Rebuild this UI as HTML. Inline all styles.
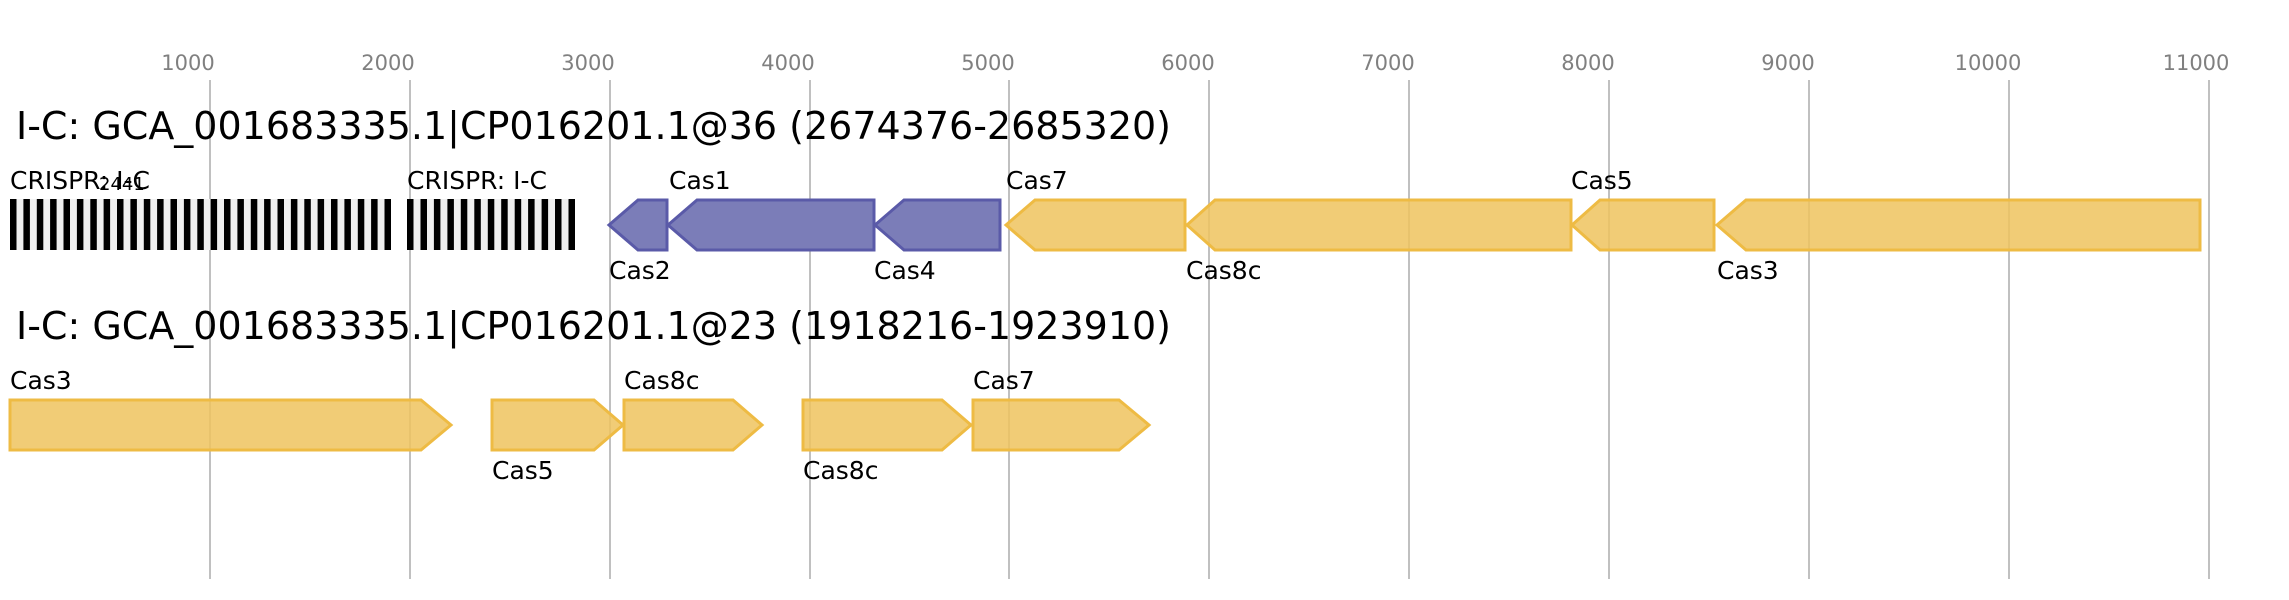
<!DOCTYPE html>
<html><head><meta charset="utf-8"><style>
html,body{margin:0;padding:0;background:#fff;}
svg{display:block;font-family:"DejaVu Sans","Liberation Sans",sans-serif;}
</style></head><body>
<svg width="2289" height="600" viewBox="0 0 2289 600" xmlns="http://www.w3.org/2000/svg">
<g stroke="#c0c0c0" stroke-width="2">
<line x1="210" y1="80" x2="210" y2="579"/><line x1="410" y1="80" x2="410" y2="579"/>
<line x1="610" y1="80" x2="610" y2="579"/><line x1="810" y1="80" x2="810" y2="579"/>
<line x1="1009" y1="80" x2="1009" y2="579"/><line x1="1209" y1="80" x2="1209" y2="579"/>
<line x1="1409" y1="80" x2="1409" y2="579"/><line x1="1609" y1="80" x2="1609" y2="579"/>
<line x1="1809" y1="80" x2="1809" y2="579"/><line x1="2009" y1="80" x2="2009" y2="579"/>
<line x1="2209" y1="80" x2="2209" y2="579"/>
</g>
<g fill="#808080" font-size="21" text-anchor="middle">
<text x="188" y="70">1000</text><text x="388" y="70">2000</text><text x="588" y="70">3000</text>
<text x="788" y="70">4000</text><text x="988" y="70">5000</text><text x="1188" y="70">6000</text>
<text x="1388" y="70">7000</text><text x="1588" y="70">8000</text><text x="1788" y="70">9000</text>
<text x="1988" y="70">10000</text><text x="2196" y="70">11000</text>
</g>
<text x="16" y="139" font-size="38" fill="#000">I-C: GCA_001683335.1|CP016201.1@36 (2674376-2685320)</text>
<text x="16" y="339" font-size="38" fill="#000">I-C: GCA_001683335.1|CP016201.1@23 (1918216-1923910)</text>
<rect x="10" y="199" width="381" height="51" fill="#f0f0f0"/>
<rect x="407" y="199" width="168" height="51" fill="#f0f0f0"/>
<g fill="#000" id="bars"></g>
<g fill="#000" font-size="25">
<text x="10" y="189">CRISPR: I-C</text>
<text x="99" y="190" font-size="18">2441</text>
<text x="407" y="189">CRISPR: I-C</text>
</g>
<g fill="#7b7db8" stroke="#5a5aa8" stroke-width="3">
<polygon points="609,225 638,200 667,200 667,250 638,250"/>
<polygon points="668,225 697,200 874,200 874,250 697,250"/>
<polygon points="875,225 904,200 1000,200 1000,250 904,250"/>
</g>
<g fill="#efc35e" fill-opacity="0.85" stroke="#eebb44" stroke-width="3">
<polygon points="1006,225 1035,200 1185,200 1185,250 1035,250"/>
<polygon points="1187,225 1215,200 1571,200 1571,250 1215,250"/>
<polygon points="1572,225 1600,200 1714,200 1714,250 1600,250"/>
<polygon points="1717,225 1746,200 2200,200 2200,250 1746,250"/>
<polygon points="10,400 421,400 451,425 421,450 10,450"/>
<polygon points="492,400 594,400 623,425 594,450 492,450"/>
<polygon points="624,400 733,400 762,425 733,450 624,450"/>
<polygon points="803,400 942,400 971,425 942,450 803,450"/>
<polygon points="973,400 1119,400 1149,425 1119,450 973,450"/>
</g>
<g fill="#000" font-size="25">
<text x="669" y="189">Cas1</text>
<text x="609" y="279">Cas2</text>
<text x="874" y="279">Cas4</text>
<text x="1006" y="189">Cas7</text>
<text x="1186" y="279">Cas8c</text>
<text x="1571" y="189">Cas5</text>
<text x="1717" y="279">Cas3</text>
<text x="10" y="389">Cas3</text>
<text x="492" y="479">Cas5</text>
<text x="624" y="389">Cas8c</text>
<text x="803" y="479">Cas8c</text>
<text x="973" y="389">Cas7</text>
</g>
<g fill="#000">
<rect x="10" y="199" width="6.5" height="51"/><rect x="23.4" y="199" width="6.5" height="51"/><rect x="36.8" y="199" width="6.5" height="51"/><rect x="50.1" y="199" width="6.5" height="51"/><rect x="63.5" y="199" width="6.5" height="51"/><rect x="76.9" y="199" width="6.5" height="51"/><rect x="90.3" y="199" width="6.5" height="51"/><rect x="103.6" y="199" width="6.5" height="51"/><rect x="117" y="199" width="6.5" height="51"/><rect x="130.4" y="199" width="6.5" height="51"/><rect x="143.8" y="199" width="6.5" height="51"/><rect x="157.1" y="199" width="6.5" height="51"/><rect x="170.5" y="199" width="6.5" height="51"/><rect x="183.9" y="199" width="6.5" height="51"/><rect x="197.3" y="199" width="6.5" height="51"/><rect x="210.6" y="199" width="6.5" height="51"/><rect x="224" y="199" width="6.5" height="51"/><rect x="237.4" y="199" width="6.5" height="51"/><rect x="250.8" y="199" width="6.5" height="51"/><rect x="264.1" y="199" width="6.5" height="51"/><rect x="277.5" y="199" width="6.5" height="51"/><rect x="290.9" y="199" width="6.5" height="51"/><rect x="304.3" y="199" width="6.5" height="51"/><rect x="317.6" y="199" width="6.5" height="51"/><rect x="331" y="199" width="6.5" height="51"/><rect x="344.4" y="199" width="6.5" height="51"/><rect x="357.8" y="199" width="6.5" height="51"/><rect x="371.1" y="199" width="6.5" height="51"/><rect x="384.5" y="199" width="6.5" height="51"/>
<rect x="407" y="199" width="6.5" height="51"/><rect x="420.5" y="199" width="6.5" height="51"/><rect x="433.9" y="199" width="6.5" height="51"/><rect x="447.4" y="199" width="6.5" height="51"/><rect x="460.8" y="199" width="6.5" height="51"/><rect x="474.3" y="199" width="6.5" height="51"/><rect x="487.8" y="199" width="6.5" height="51"/><rect x="501.2" y="199" width="6.5" height="51"/><rect x="514.7" y="199" width="6.5" height="51"/><rect x="528.1" y="199" width="6.5" height="51"/><rect x="541.6" y="199" width="6.5" height="51"/><rect x="555" y="199" width="6.5" height="51"/><rect x="568.5" y="199" width="6.5" height="51"/>
</g>
</svg>
</body></html>
